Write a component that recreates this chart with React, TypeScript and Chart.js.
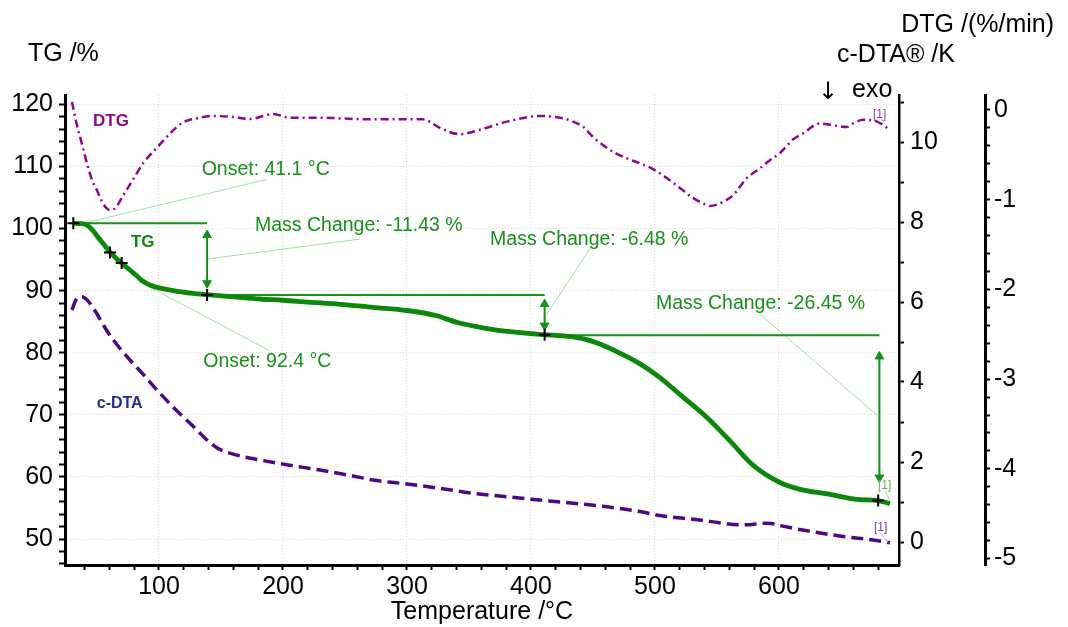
import { useEffect, useRef } from 'react';
import { Chart, registerables } from 'chart.js';

Chart.register(...registerables);

const FONT = '"Liberation Sans", Arial, Helvetica, sans-serif';

// ---- axis ticks ----
const X_MAJOR = [100, 200, 300, 400, 500, 600];
const TG_MAJOR = [50, 60, 70, 80, 90, 100, 110, 120];
const DTA_MAJOR = [0, 2, 4, 6, 8, 10];
const DTG_MAJOR = [0, -1, -2, -3, -4, -5];

// ---- TG curve (Temperature °C, TG %) ----
const TG_T = [30.9, 36, 42, 47, 52.4, 56.5, 60.5, 65, 70, 76, 82, 87, 92.7, 97, 102, 109, 118, 127.4, 138.5, 160, 181.5, 200, 220, 246, 272.6, 300, 324, 340, 364.5, 385, 407, 420, 434, 445, 455.6, 472, 488, 504, 520, 541.7, 560.5, 579, 600.8, 617, 641, 662.6, 680, 689.5];
const TG_V = [100.85, 100.8, 100.55, 99.6, 98.2, 97.2, 96.2, 95.3, 94.4, 93.4, 92.4, 91.5, 90.9, 90.6, 90.35, 90.1, 89.8, 89.55, 89.35, 89.0, 88.65, 88.45, 88.15, 87.8, 87.3, 86.8, 85.95, 84.9, 83.9, 83.35, 82.95, 82.8, 82.55, 82.1, 81.4, 79.9, 78.2, 76.0, 73.3, 69.6, 65.8, 61.9, 59.1, 58.0, 57.2, 56.4, 56.2, 55.7];

// ---- DTG curve (Temperature °C, %/min) ----
const DTG_T = [29.8, 33, 37.7, 42, 46, 49.8, 54, 58, 61, 65, 71.2, 78, 87.4, 98.4, 109, 118.5, 133, 143.5, 160, 173.4, 192, 205.6, 230, 256.5, 272.6, 300, 313, 326.6, 342.7, 359, 380.6, 407.3, 425.8, 434, 442, 450, 458, 466, 477.4, 488, 498.4, 509.7, 520.2, 530.6, 538.7, 544.4, 552.4, 563, 574, 584.7, 592.7, 600.8, 611.3, 619.4, 633, 643.5, 654.8, 659.7, 667.7, 679, 689.5];
const DTG_V = [0.09, -0.12, -0.37, -0.6, -0.78, -0.89, -1.02, -1.1, -1.115, -1.09, -0.95, -0.8, -0.59, -0.42, -0.26, -0.145, -0.086, -0.067, -0.078, -0.1, -0.045, -0.086, -0.086, -0.1, -0.104, -0.104, -0.104, -0.2, -0.27, -0.22, -0.13, -0.067, -0.093, -0.13, -0.186, -0.3, -0.39, -0.465, -0.54, -0.595, -0.66, -0.76, -0.87, -0.98, -1.04, -1.07, -1.04, -0.95, -0.76, -0.65, -0.56, -0.48, -0.33, -0.26, -0.15, -0.17, -0.19, -0.15, -0.11, -0.13, -0.22];

// ---- c-DTA curve (Temperature °C, K) ----
const DTA_T = [29.8, 33, 37.9, 42, 48, 58, 67, 76.6, 87, 98.4, 109, 119.4, 129, 138.7, 147, 157, 170, 181.5, 203, 229.8, 256.5, 272.6, 300, 326.6, 353, 380.6, 400, 433.9, 461.3, 488, 504, 514, 536, 552, 568.5, 576, 586, 594, 601, 622.6, 649, 675.8, 689.5];
const DTA_V = [5.8, 6.05, 6.13, 6.05, 5.8, 5.28, 4.9, 4.55, 4.2, 3.8, 3.45, 3.13, 2.85, 2.55, 2.35, 2.22, 2.12, 2.05, 1.93, 1.8, 1.65, 1.55, 1.45, 1.34, 1.22, 1.13, 1.07, 0.97, 0.88, 0.76, 0.66, 0.62, 0.55, 0.48, 0.43, 0.43, 0.47, 0.46, 0.41, 0.28, 0.15, 0.05, -0.02];

// ---- evaluation annotations (on TG scale) ----
const STEP_T = [[30.9, 138.8], [138.8, 411], [411, 681]];
const STEP_V = [100.85, 89.3, 82.8];
const ARROW_T = [138.8, 411, 681];
const ARROW_TOP = [99.74, 88.63, 80.2];
const ARROW_BOTTOM = [90.4, 83.57, 59.1];
const MARK_T = [30.9, 60.5, 69.9, 138.8, 411, 680];
const MARK_V = [100.85, 96.14, 94.43, 89.3, 82.9, 56.2];
const LEADER_T = [[38, 187], [139.5, 262], [412.7, 449], [679.6, 584.7], [91, 189.5], [685.5, 689.5], [682.3, 685.5], [681.5, 688]];
const LEADER_V = [[100.8, 107.9], [95.1, 98.3], [86.2, 97.2], [69.85, 86.2], [90.75, 80.3], [57.76, 56.15], [117.67, 116.86], [51.05, 49.44]];

const TG_COLOR = '#0b870b';
const ANN_GREEN = '#17901a';
const DTG_COLOR = '#8b0a8b';
const DTA_COLOR = '#4a0a82';
const GRID = '#d9d9d9';

const LABEL_TEXT = ['DTG', 'TG', 'c-DTA', 'Onset: 41.1 °C', 'Mass Change: -11.43 %', 'Mass Change: -6.48 %', 'Mass Change: -26.45 %', 'Onset: 92.4 °C', '[1]', '[1]', '[1]'];
const LABEL_T = [46.8, 77.4, 49.8, 134.4, 177.4, 367, 500.8, 135.7, 675.8, 679.8, 676.6];
const LABEL_V = [117.34, 97.7, 71.8, 109.5, 100.4, 98.2, 87.95, 78.6, 118.3, 58.57, 51.8];
const LABEL_COLOR = [DTG_COLOR, TG_COLOR, '#2a2a8c', ANN_GREEN, ANN_GREEN, ANN_GREEN, ANN_GREEN, ANN_GREEN, '#9a3aa0', '#5fb55f', '#7a3aa0'];
const LABEL_FONT = ['bold 17px', 'bold 17px', 'bold 16px', '19.5px', '19.5px', '19.5px', '19.5px', '19.5px', '12px', '12px', '12px'];

function makeTicks(from: number, to: number, step: number) {
  const out: number[] = [];
  const n = Math.round((to - from) / step);
  for (let i = 0; i <= n; i++) out.push(Math.round((from + i * step) * 1000) / 1000);
  return out;
}

const X_TICKS = makeTicks(40, 680, 20);
const TG_TICKS = makeTicks(46, 120, 2);
const DTA_TICKS = makeTicks(0, 11, 1);
const DTG_TICKS = makeTicks(-5, 0, 0.2);

const isIn = (arr: number[], v: number) => arr.some((m) => Math.abs(m - v) < 1e-6);
const pts = (xs: number[], ys: number[]) => xs.map((x, i) => ({ x, y: ys[i] }));

const textPlugin = {
  id: 'texts',
  afterDatasetsDraw(chart: any) {
    const { ctx, scales } = chart;
    const sx = scales.x;
    const sy = scales.yTG;
    ctx.save();
    ctx.textBaseline = 'middle';
    ctx.textAlign = 'left';
    LABEL_TEXT.forEach((t, i) => {
      ctx.font = `${LABEL_FONT[i]} ${FONT}`;
      ctx.fillStyle = LABEL_COLOR[i];
      ctx.fillText(t, sx.getPixelForValue(LABEL_T[i]), sy.getPixelForValue(LABEL_V[i]));
    });
    ctx.restore();
  },
  afterDraw(chart: any) {
    const { ctx } = chart;
    ctx.save();
    ctx.fillStyle = '#000';
    ctx.textBaseline = 'alphabetic';
    ctx.font = `25px ${FONT}`;
    ctx.textAlign = 'left';
    ctx.fillText('TG /%', 28, 60.7);
    ctx.fillText('c-DTA® /K', 837, 61.7);
    ctx.fillText('exo', 852, 97);
    ctx.font = `24px "DejaVu Sans", ${FONT}`;
    ctx.fillText('↓', 818, 99);
    ctx.font = `25px ${FONT}`;
    ctx.textAlign = 'right';
    ctx.fillText('DTG /(%/min)', 1054, 31.7);
    ctx.textAlign = 'center';
    ctx.fillText('Temperature /°C', 482, 619);
    ctx.restore();
  },
};

export default function App() {
  const ref = useRef<HTMLCanvasElement>(null);

  useEffect(() => {
    if (!ref.current) return;
    const tickFont = { family: FONT, size: 25 };
    const annDatasets: any[] = [];
    STEP_T.forEach((tt, i) => {
      annDatasets.push({
        data: [{ x: tt[0], y: STEP_V[i] }, { x: tt[1], y: STEP_V[i] }],
        yAxisID: 'yTG', borderColor: ANN_GREEN, borderWidth: 2, pointRadius: 0,
      });
    });
    const headOff = 0.8;
    ARROW_T.forEach((t, i) => {
      annDatasets.push({
        data: [{ x: t, y: ARROW_TOP[i] - headOff }, { x: t, y: ARROW_BOTTOM[i] + headOff }],
        yAxisID: 'yTG', borderColor: ANN_GREEN, borderWidth: 2,
        pointStyle: 'triangle', pointRadius: 5,
        pointRotation: (c: any) => (c.dataIndex === 0 ? 0 : 180),
        pointBackgroundColor: ANN_GREEN, pointBorderColor: ANN_GREEN, pointBorderWidth: 1,
      });
    });
    LEADER_T.forEach((tt, i) => {
      annDatasets.push({
        data: [{ x: tt[0], y: LEADER_V[i][0] }, { x: tt[1], y: LEADER_V[i][1] }],
        yAxisID: 'yTG', borderColor: i >= 5 ? '#c9b5d9' : '#a6dca6', borderWidth: 1, pointRadius: 0,
      });
    });

    const chart = new Chart(ref.current, {
      type: 'line',
      data: {
        datasets: [
          {
            data: pts(MARK_T, MARK_V), yAxisID: 'yTG', showLine: false,
            pointStyle: 'cross', pointRadius: 6, pointBorderColor: '#000', pointBorderWidth: 2,
          },
          {
            data: pts(TG_T, TG_V), yAxisID: 'yTG', borderColor: TG_COLOR, borderWidth: 4.8,
            pointRadius: 0, cubicInterpolationMode: 'monotone',
          },
          ...annDatasets,
          {
            data: pts(DTG_T, DTG_V), yAxisID: 'yDTG', borderColor: DTG_COLOR, borderWidth: 2.5,
            borderDash: [8, 4, 2, 4], pointRadius: 0, cubicInterpolationMode: 'monotone',
          },
          {
            data: pts(DTA_T, DTA_V), yAxisID: 'yDTA', borderColor: DTA_COLOR, borderWidth: 3.5,
            borderDash: [12, 6], pointRadius: 0, cubicInterpolationMode: 'monotone',
          },
        ] as any,
      },
      options: {
        animation: false,
        responsive: false,
        devicePixelRatio: 1,
        layout: { padding: { top: 95, left: 0, right: 0, bottom: 0 } },
        plugins: { legend: { display: false }, tooltip: { enabled: false }, title: { display: false } },
        events: [],
        scales: {
          x: {
            type: 'linear', position: 'bottom', min: 24.2, max: 696.8,
            afterBuildTicks: (s: any) => { s.ticks = X_TICKS.map((value) => ({ value })); },
            afterFit: (s: any) => { s.height = 62; },
            ticks: {
              autoSkip: false, maxRotation: 0, minRotation: 0, font: tickFont, color: '#000', padding: 2,
              callback: (v: any) => (isIn(X_MAJOR, v) ? String(v) : ''),
            },
            grid: {
              color: (c: any) => (c.tick && isIn(X_MAJOR, c.tick.value) ? GRID : 'rgba(0,0,0,0)'),
              lineWidth: 1, tickLength: 5, tickWidth: 2, tickColor: '#000',
            },
            border: { display: true, color: '#000', width: 3, dash: [1, 2] },
          },
          yTG: {
            type: 'linear', position: 'left', min: 45.82, max: 121.5,
            afterBuildTicks: (s: any) => { s.ticks = TG_TICKS.map((value) => ({ value })); },
            afterFit: (s: any) => { s.width = 65; },
            ticks: {
              autoSkip: false, font: tickFont, color: '#000', padding: 6,
              callback: (v: any) => (isIn(TG_MAJOR, v) ? String(v) : ''),
            },
            grid: {
              color: (c: any) => (c.tick && isIn(TG_MAJOR, c.tick.value) ? GRID : 'rgba(0,0,0,0)'),
              lineWidth: 1, tickLength: 6, tickWidth: 2, tickColor: '#000',
            },
            border: { display: true, color: '#000', width: 3, dash: [1, 2] },
          },
          yDTA: {
            type: 'linear', position: 'right', weight: 0, min: -0.575, max: 11.175,
            afterBuildTicks: (s: any) => { s.ticks = DTA_TICKS.map((value) => ({ value })); },
            afterFit: (s: any) => { s.width = 86; },
            ticks: {
              autoSkip: false, font: tickFont, color: '#000', padding: 6,
              callback: (v: any) => (isIn(DTA_MAJOR, v) ? String(v) : ''),
            },
            grid: { drawOnChartArea: false, tickLength: 5, tickWidth: 2, tickColor: '#000' },
            border: { display: true, color: '#000', width: 2.5 },
          },
          yDTG: {
            type: 'linear', position: 'right', weight: 1, min: -5.072, max: 0.167,
            afterBuildTicks: (s: any) => { s.ticks = DTG_TICKS.map((value) => ({ value })); },
            afterFit: (s: any) => { s.width = 83; },
            ticks: {
              autoSkip: false, font: tickFont, color: '#000', padding: 4,
              callback: (v: any) => (isIn(DTG_MAJOR, v) ? String(Math.round(v)) : ''),
            },
            grid: { drawOnChartArea: false, tickLength: 5, tickWidth: 2, tickColor: '#000' },
            border: { display: true, color: '#000', width: 3 },
          },
        },
      } as any,
      plugins: [textPlugin],
    });
    return () => chart.destroy();
  }, []);

  return (
    <div style={{ position: 'absolute', left: 0, top: 0, width: 1068, height: 627, background: '#fff' }}>
      <canvas ref={ref} width={1068} height={627} style={{ display: 'block' }} />
    </div>
  );
}
